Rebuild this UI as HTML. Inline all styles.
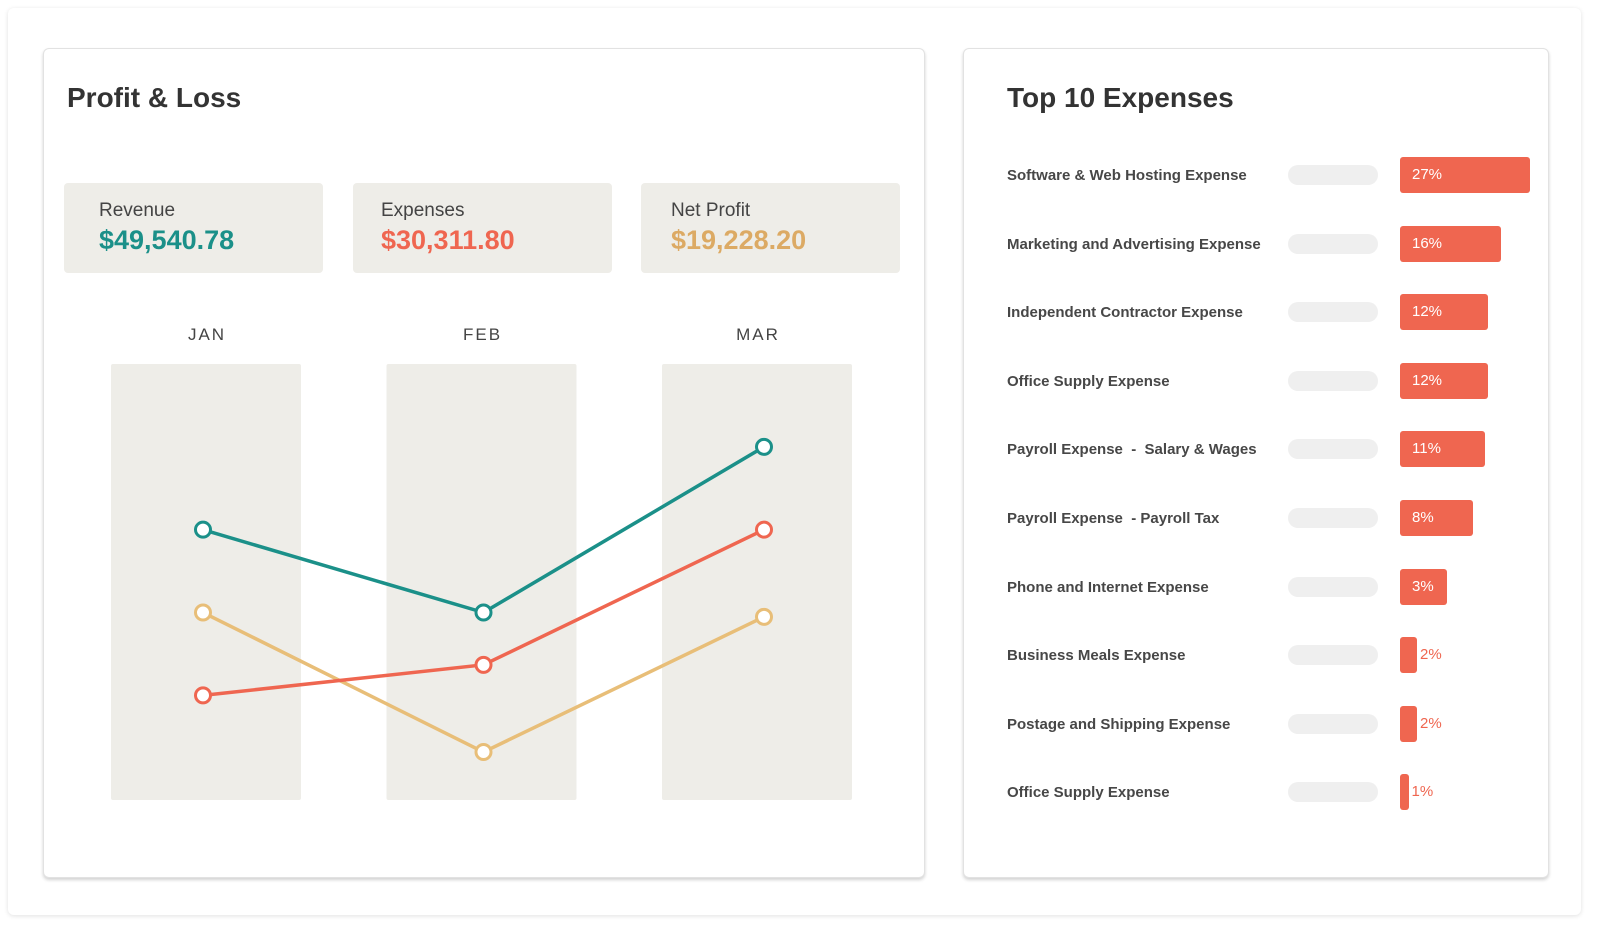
<!DOCTYPE html>
<html><head><meta charset="utf-8"><style>
body{margin:0;width:1598px;height:933px;background:#fff;font-family:"Liberation Sans",sans-serif;position:relative;overflow:hidden}
.abs{position:absolute}
.card{position:absolute;background:#fff;border-radius:6px}
.kpi{position:absolute;top:183px;width:259px;height:90px;background:#eeede8;border-radius:4px}
.kpi .l{position:absolute;left:35px;top:17px;font-size:19px;color:#444}
.kpi .v{position:absolute;left:35px;top:42px;font-size:27px;font-weight:bold}
.row{position:absolute;left:1007px;font-size:15px;font-weight:bold;color:#474747}
</style></head><body>
<div class="card" style="left:8px;top:8px;width:1573px;height:907px;box-shadow:0 1px 5px rgba(0,0,0,0.12)"></div>
<div class="card" style="left:43px;top:48px;width:880px;height:828px;border:1px solid #e2e2e2;box-shadow:0 2px 3px rgba(0,0,0,0.18)"></div>
<div class="card" style="left:963px;top:48px;width:584px;height:828px;border:1px solid #e2e2e2;box-shadow:0 2px 3px rgba(0,0,0,0.18)"></div>
<div class="abs" style="left:67px;top:82px;font-size:28px;font-weight:bold;color:#333">Profit &amp; Loss</div>
<div class="abs" style="left:1007px;top:82px;font-size:28px;font-weight:bold;color:#333">Top 10 Expenses</div>
<div class="kpi" style="left:64px"><div class="l">Revenue</div><div class="v" style="color:#1b9089">$49,540.78</div></div>
<div class="kpi" style="left:353px"><div class="l" style="left:28px">Expenses</div><div class="v" style="left:28px;color:#ef6650">$30,311.80</div></div>
<div class="kpi" style="left:641px"><div class="l" style="left:30px">Net Profit</div><div class="v" style="left:30px;color:#dcaa64">$19,228.20</div></div>
<svg class="abs" style="left:0;top:0" width="1598" height="933" id="chart"></svg>
<div id="exp"></div>
<script>
const months=["JAN","FEB","MAR"];
const revenue=[62,43,81];
const expenses=[24,31,62];
const netProfit=[43,11,42];
const expLabels=["Software & Web Hosting Expense","Marketing and Advertising Expense","Independent Contractor Expense","Office Supply Expense","Payroll Expense  -  Salary & Wages","Payroll Expense  - Payroll Tax","Phone and Internet Expense","Business Meals Expense","Postage and Shipping Expense","Office Supply Expense"];
const expPct=[27,16,12,12,11,8,3,2,2,1];
const NS="http://www.w3.org/2000/svg";
const svg=document.getElementById('chart');
const xc=i=>203+i*280.5;
const xcol=i=>206+i*275.5;
const y=v=>800-v*4.36;
function mk(t,a){const e=document.createElementNS(NS,t);for(const k in a)e.setAttribute(k,a[k]);svg.appendChild(e);return e;}
months.forEach((m,i)=>{
 const r=mk('rect',{x:xcol(i)-95,y:364,width:190,height:436,fill:'#eeede8',rx:2});
 
 
 const t=mk('text',{x:xcol(i)+1,y:340,'text-anchor':'middle','font-size':17,'letter-spacing':2,fill:'#444','font-family':'Liberation Sans'});
 t.textContent=m;
 
 
});
[[netProfit,'#e8be78','net-profit'],[expenses,'#ef6650','expenses'],[revenue,'#1b9089','revenue']].forEach(([d,c,n])=>{
 const p=mk('polyline',{points:d.map((v,i)=>xc(i)+','+y(v)).join(' '),fill:'none',stroke:c,'stroke-width':3.5});
 
 
 d.forEach((v,i)=>{
  const ci=mk('circle',{cx:xc(i),cy:y(v),r:7.5,fill:'#fff',stroke:c,'stroke-width':3});
  
  
 });
});
const ex=document.getElementById('exp');
const w=p=>p>=3?24*Math.sqrt(p)+5:8.5*p;
expLabels.forEach((l,i)=>{
 const cy=175+i*68.6;
 const lab=document.createElement('div');lab.className='row';lab.style.top=(cy-8)+'px';lab.textContent=l;lab.style.whiteSpace='pre';
 
 
 ex.appendChild(lab);
 const tr=document.createElement('div');tr.className='abs';
 tr.style.cssText=`left:1288px;top:${cy-10}px;width:90px;height:20px;border-radius:10px;background:#efefef`;
 
 
 ex.appendChild(tr);
 const b=document.createElement('div');b.className='abs';
 b.style.cssText=`left:1400px;top:${cy-18}px;width:${w(expPct[i])}px;height:36px;border-radius:3px;background:#ef6650`;
 
 
 ex.appendChild(b);
 const t=document.createElement('div');t.className='abs';
 const inside=expPct[i]>=3;
 t.style.cssText=`left:${inside?1412:1400+w(expPct[i])+3}px;top:${cy-9}px;font-size:15px;color:${inside?'#fff':'#ef6650'}`;
 t.textContent=expPct[i]+'%';
 
 
 ex.appendChild(t);
});
</script>
</body></html>
